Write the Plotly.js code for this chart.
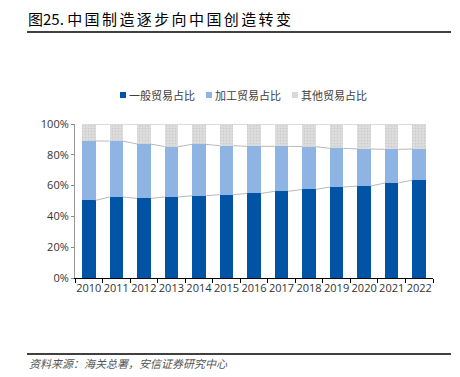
<!DOCTYPE html>
<html>
<head>
<meta charset="utf-8">
<script src="https://cdn.plot.ly/plotly-3.0.1.min.js"></script>
<style>
html,body{margin:0;padding:0;background:#fff;}
#chart{width:460px;height:377px;}
</style>
</head>
<body>
<div id="chart"></div>
<script>
const years = ['2010','2011','2012','2013','2014','2015','2016','2017','2018','2019','2020','2021','2022'];
const generalTrade = [50.4, 52.6, 51.7, 52.6, 53.4, 54.1, 54.9, 56.3, 57.5, 59.1, 59.7, 61.7, 63.6];
const processingTrade = [38.6, 36.3, 35.3, 32.7, 33.4, 31.8, 30.6, 29.2, 27.8, 25.1, 24.1, 21.8, 20.2];
const otherTrade = generalTrade.map((g, i) => +(100 - g - processingTrade[i]).toFixed(1));
const seriesNames = ['一般贸易占比', '加工贸易占比', '其他贸易占比'];
const seriesColors = ['#0053a5', '#8eb4e3', '#d9d9d9'];

const idx = years.map((_, i) => i);
const BW = 0.49;
const fontMain = 'Open Sans, Noto Sans CJK SC, sans-serif';
const fontCJK = 'Noto Sans CJK SC, sans-serif';

// plot-area pixel mapping helpers for paper coords
const L = 75, R = 433, T = 124, B = 278;
const px = x => (x - L) / (R - L);
const py = y => (B - y) / (B - T);

function seriesLine(vals) {
  const xs = [], ys = [];
  for (let i = 0; i < vals.length - 1; i++) {
    xs.push(i + BW / 2, i + 1 - BW / 2, null);
    ys.push(vals[i], vals[i + 1], null);
  }
  return {x: xs, y: ys, type: 'scatter', mode: 'lines', showlegend: false, hoverinfo: 'skip',
          line: {color: '#a6a6a6', width: 0.8}};
}
const cum1 = generalTrade;
const cum2 = generalTrade.map((g, i) => g + processingTrade[i]);
const cum3 = cum2.map((c, i) => c + otherTrade[i]);

const traces = [
  {x: idx, y: generalTrade, name: seriesNames[0], type: 'bar', width: BW, marker: {color: seriesColors[0]}},
  {x: idx, y: processingTrade, name: seriesNames[1], type: 'bar', width: BW, marker: {color: seriesColors[1]}},
  {x: idx, y: otherTrade, name: seriesNames[2], type: 'bar', width: BW,
   marker: {color: seriesColors[2], pattern: {shape: '.', fgcolor: '#cacaca', bgcolor: '#dcdcdc', size: 3, solidity: 0.2}}},
  seriesLine(cum1), seriesLine(cum2), seriesLine(cum3)
];

// manual legend
const legendX = [120, 206, 292];
const legendY = 95;
const legendShapes = legendX.map((x, i) => ({
  type: 'rect', xref: 'paper', yref: 'paper', x0: px(x), x1: px(x + 6), y0: py(legendY + 3), y1: py(legendY - 3),
  line: {width: 0}, fillcolor: seriesColors[i]
}));
const legendTexts = legendX.map((x, i) => ({
  xref: 'paper', yref: 'paper', x: px(x + 7), y: py(legendY), xanchor: 'left', yanchor: 'middle', showarrow: false,
  text: seriesNames[i], font: {family: fontCJK, size: 11, color: '#404040'}
}));

const layout = {
  width: 460, height: 377,
  margin: {l: L, r: 460 - R, t: T, b: 377 - B, pad: 0},
  paper_bgcolor: '#fff', plot_bgcolor: '#fff',
  barmode: 'stack',
  showlegend: false,
  font: {family: fontMain, size: 11, color: '#404040'},
  xaxis: {
    type: 'linear', range: [-0.5, 12.5], tickmode: 'array', tickvals: idx, ticktext: years,
    ticks: '', showgrid: false, zeroline: false, showline: true, linecolor: '#000', linewidth: 1,
    tickfont: {family: fontMain, size: 11, color: '#333'},
    minor: {tickmode: 'array', tickvals: idx.concat([years.length]).map(i => i - 0.5), ticks: 'outside', ticklen: 4, tickcolor: '#000', showgrid: false},
    fixedrange: true
  },
  yaxis: {
    range: [0, 100], tickvals: [0, 20, 40, 60, 80, 100], ticktext: ['0%', '20%', '40%', '60%', '80%', '100%'],
    ticks: 'outside', ticklen: 3, tickcolor: '#888', showgrid: false, zeroline: false,
    showline: true, linecolor: '#999', linewidth: 1,
    tickfont: {family: fontMain, size: 11, color: '#333'}, fixedrange: true
  },
  shapes: [
    {type: 'line', xref: 'paper', yref: 'paper', x0: px(27), x1: px(451), y0: py(32), y1: py(32), line: {color: '#000', width: 1.5}},
    {type: 'line', xref: 'paper', yref: 'paper', x0: px(27), x1: px(451), y0: py(354), y1: py(354), line: {color: '#000', width: 1.5}}
  ].concat(legendShapes),
  annotations: [
    {xref: 'paper', yref: 'paper', x: px(26), y: py(18), xanchor: 'left', yanchor: 'middle', showarrow: false,
     text: '图25. <span style="letter-spacing:2.4px">中国制造逐步向中国创造转变</span>',
     font: {family: fontCJK, size: 15, color: '#000', weight: 400}},
    {xref: 'paper', yref: 'paper', x: px(27), y: py(363), xanchor: 'left', yanchor: 'middle', showarrow: false,
     text: '<i>资料来源：海关总署，安信证券研究中心</i>', font: {family: fontCJK, size: 11, color: '#555'}}
  ].concat(legendTexts)
};

Plotly.newPlot('chart', traces, layout, {displayModeBar: false, staticPlot: true});
</script>
</body>
</html>
